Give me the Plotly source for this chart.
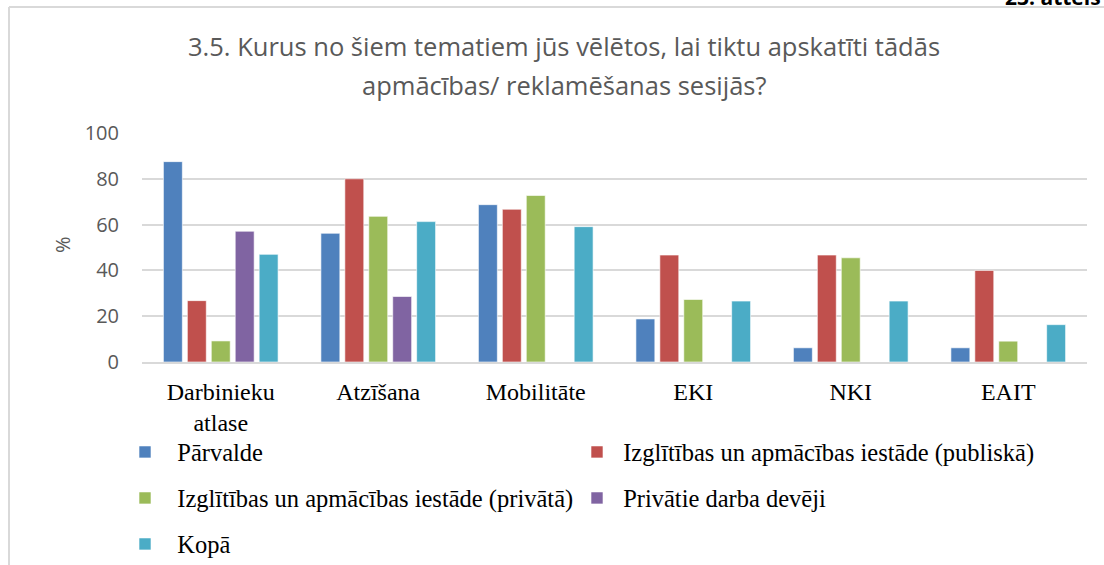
import plotly.graph_objects as go

categories = ["Darbinieku<br>atlase", "Atzīšana", "Mobilitāte", "EKI", "NKI", "EAIT"]
series_names = [
    "Pārvalde",
    "Izglītības un apmācības iestāde (publiskā)",
    "Izglītības un apmācības iestāde (privātā)",
    "Privātie darba devēji",
    "Kopā",
]
parvalde = [87.5, 56.2, 68.7, 18.8, 6.2, 6.2]
publiska = [26.8, 80.0, 66.7, 46.7, 46.7, 40.0]
privata = [9.2, 63.6, 72.7, 27.3, 45.5, 9.1]
darba_deveji = [57.1, 28.6, 0, 0, 0, 0]
kopa = [47.0, 61.3, 59.1, 26.6, 26.6, 16.3]
y_ticks = [0, 20, 40, 60, 80, 100]

values = [parvalde, publiska, privata, darba_deveji, kopa]
colors = ["#4F81BD", "#C0504D", "#9BBB59", "#8064A2", "#4BACC6"]
legend_ids = ["legend", "legend2", "legend3", "legend4", "legend5"]
# legend entry placement in pixels (icon-left - 14, row centre)
legend_pos = [(125, 452), (577, 452), (125, 498), (577, 498), (125, 544)]
legend_pad = ["\u00a0\u00a0", "\u00a0", "\u00a0\u00a0", "\u00a0", "\u00a0\u00a0"]

W, H = 1104, 565
L, R, T, B = 142, 17, 133, 203
PW, PH = W - L - R, H - T - B

def px(x):
    return (x - L) / PW

def py(y):
    return (H - B - y) / PH

def cx(x):
    return x / W

def cy(y):
    return 1 - y / H

fig = go.Figure()
for name, vals, col, lg, pad in zip(series_names, values, colors, legend_ids, legend_pad):
    fig.add_trace(go.Bar(
        x=categories, y=vals, name=pad + name, showlegend=True,
        marker=dict(color=col, line=dict(color="rgba(255,255,255,0.6)", width=1)),
        legend=lg,
    ))

legend_font = dict(family="Liberation Serif", size=24.5, color="#000000")
legends = {}
for lg, (lx, ly) in zip(legend_ids, legend_pos):
    legends[lg] = dict(x=cx(lx), y=cy(ly), orientation="h", xanchor="left",
                       yanchor="middle", xref="container", yref="container",
                       font=legend_font, bgcolor="rgba(0,0,0,0)", itemclick=False,
                       visible=True)

fig.update_layout(
    width=W, height=H,
    showlegend=True,
    margin=dict(l=L, r=R, t=T, b=B, autoexpand=False),
    paper_bgcolor="white", plot_bgcolor="white",
    barmode="group", bargap=0.24, bargroupgap=0.21,
    xaxis=dict(
        tickfont=dict(family="Liberation Serif", size=24, color="#000000"),
        showline=True, linecolor="#D9D9D9", linewidth=2,
        ticks="", showgrid=False, ticklabelstandoff=7, automargin=False,
    ),
    yaxis=dict(
        range=[0, 100], tickvals=y_ticks,
        tickfont=dict(family="Open Sans", size=20, color="#595959"),
        gridcolor="#D9D9D9", gridwidth=2, zeroline=False,
        ticks="", ticklabelstandoff=22, showline=False, automargin=False,
    ),
    annotations=[
        dict(text="3.5. Kurus no šiem tematiem jūs vēlētos, lai tiktu apskatīti tādās",
             x=px(564), y=py(46), xref="paper", yref="paper", showarrow=False,
             xanchor="center", yanchor="middle",
             font=dict(family="Open Sans", size=25.5, color="#595959")),
        dict(text="apmācības/ reklamēšanas sesijās?",
             x=px(564), y=py(85), xref="paper", yref="paper", showarrow=False,
             xanchor="center", yanchor="middle",
             font=dict(family="Open Sans", size=25.5, color="#595959")),
        dict(text="%", x=px(62), y=py(245), xref="paper", yref="paper",
             showarrow=False, textangle=-90, xanchor="center", yanchor="middle",
             font=dict(family="Open Sans", size=20, color="#595959")),
        dict(text="<b>23. attēls</b>", x=px(1103), y=py(5), xref="paper", yref="paper",
             showarrow=False, xanchor="right", yanchor="bottom", yshift=-8,
             font=dict(family="Open Sans", size=21, color="#000000")),
    ],
    shapes=[
        dict(type="line", xref="paper", yref="paper",
             x0=px(9), x1=px(W + 5), y0=py(7), y1=py(7),
             line=dict(color="#D9D9D9", width=2)),
        dict(type="line", xref="paper", yref="paper",
             x0=px(9), x1=px(9), y0=py(7), y1=py(H + 5),
             line=dict(color="#D9D9D9", width=2)),
    ],
    **legends,
)

fig.write_html("out.html", config={"displayModeBar": False},
               post_script="document.body.style.margin='0px';")
